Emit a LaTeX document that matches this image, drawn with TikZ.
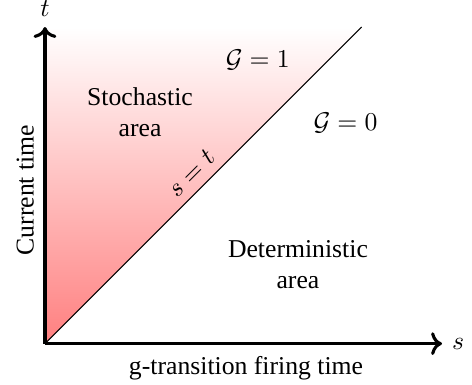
\documentclass[tikz,border=0pt]{standalone}
\usepackage{fontspec}
\setmainfont{Liberation Serif}
\usetikzlibrary{arrows.meta,positioning}
\begin{document}
\begin{tikzpicture}
  \tikzset{axis/.style={line width=1.2pt, ->},
    region/.style={align=center}}
  \useasboundingbox (-0.615,-0.56) rectangle (5.84,4.70);
  % Corner points
  \coordinate (O) at (0,0);
  \coordinate (T) at (0,4.33);
  \coordinate (S) at (5.43,0);
  \coordinate (D) at (4.33,4.33);
  % Stochastic triangle
  \shade[top color=white, bottom color=red!50] (O) -- (T) -- (D) -- cycle;
  \draw[thin] (O) -- (D) node[midway, above, sloped] (diag) {$s=t$};
  % Axes
  \draw[axis] (O) -- (S) node[right] (slab) {$s$};
  \draw[axis] (O) -- (T) node[above] (tlab) {$t$};
  \node (xlab) at (2.75,-0.33) {g-transition firing time};
  \node[rotate=90] (ylab) at (-0.27,2.1) {Current time};
  % Areas
  \node[region] (stoch) at (1.30,3.17) {Stochastic\\area};
  \node[region] (determ) at (3.46,1.08) {Deterministic\\area};
  \node (g1) at (2.91,3.88) {$\mathcal{G}=1$};
  \node (g0) at (4.11,3.02) {$\mathcal{G}=0$};
\end{tikzpicture}
\end{document}
